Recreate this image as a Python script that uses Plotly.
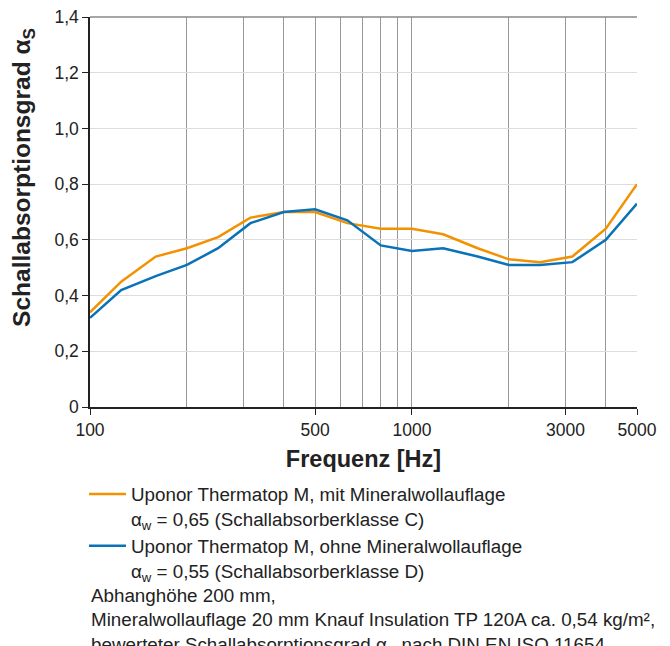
import plotly.graph_objects as go

freq = [100, 125, 160, 200, 250, 315, 400, 500, 630, 800, 1000, 1250, 1600, 2000, 2500, 3150, 4000, 5000]
mit_mineralwolle = [0.34, 0.45, 0.54, 0.57, 0.61, 0.68, 0.70, 0.70, 0.66, 0.64, 0.64, 0.62, 0.57, 0.53, 0.52, 0.54, 0.64, 0.80]
ohne_mineralwolle = [0.32, 0.42, 0.47, 0.51, 0.57, 0.66, 0.70, 0.71, 0.67, 0.58, 0.56, 0.57, 0.54, 0.51, 0.51, 0.52, 0.60, 0.73]

x_tickvals = [100, 500, 1000, 3000, 5000]
x_ticktext = ["100", "500", "1000", "3000", "5000"]
x_gridvals = [200, 300, 400, 500, 600, 700, 800, 900, 1000, 2000, 3000, 4000, 5000]
y_tickvals = [0, 0.2, 0.4, 0.6, 0.8, 1.0, 1.2, 1.4]
y_ticktext = ["0", "0,2", "0,4", "0,6", "0,8", "1,0", "1,2", "1,4"]

name_mit = "Uponor Thermatop M, mit Mineralwollauflage<br>α<sub>w</sub> = 0,65 (Schallabsorberklasse C)"
name_ohne = "Uponor Thermatop M, ohne Mineralwollauflage<br>α<sub>w</sub> = 0,55 (Schallabsorberklasse D)"
footnote = ("Abhanghöhe 200 mm,<br>Mineralwollauflage 20 mm Knauf Insulation TP 120A ca. 0,54 kg/m²,"
            "<br>bewerteter Schallabsorptionsgrad α<sub>w</sub> nach DIN EN ISO 11654")
y_title = "<b>Schallabsorptionsgrad α<sub>S</sub></b>"

orange = "#F39200"
blue = "#0A72B8"
font_family = "Liberation Sans, Arial, sans-serif"
text_color = "#222222"

fig = go.Figure()
fig.add_trace(go.Scatter(x=freq, y=mit_mineralwolle, mode="lines", name=name_mit,
                         line=dict(color=orange, width=2.5)))
fig.add_trace(go.Scatter(x=freq, y=ohne_mineralwolle, mode="lines", name=name_ohne,
                         line=dict(color=blue, width=2.5)))

# the page body adds an 8px offset, so the figure is sized 8px smaller
fig.update_layout(
    width=662, height=638,
    margin=dict(l=82, r=33, t=9, b=239, autoexpand=False),
    paper_bgcolor="white", plot_bgcolor="white",
    font=dict(family=font_family, size=17.5, color=text_color),
    showlegend=True,
    legend=dict(x=-0.011, y=-0.175, xanchor="left", yanchor="top",
                valign="top", tracegroupgap=3, itemwidth=37,
                font=dict(size=18.8, color=text_color), bgcolor="rgba(0,0,0,0)"),
    xaxis=dict(
        type="log", range=[2, 3.69897],
        tickvals=x_tickvals, ticktext=x_ticktext,
        showgrid=False, ticks="outside", ticklen=6, tickcolor=text_color,
        showline=True, linecolor=text_color, linewidth=1.5,
        tickfont=dict(size=17.5, color=text_color),
        minor=dict(tickvals=x_gridvals, showgrid=True, gridcolor="#999999", gridwidth=1, ticks=""),
        title=dict(text="<b>Frequenz [Hz]</b>", font=dict(size=23.5, color=text_color), standoff=12),
        zeroline=False,
    ),
    yaxis=dict(
        range=[0, 1.4],
        tickvals=y_tickvals, ticktext=y_ticktext,
        showgrid=True, gridcolor="#DDDDDD", gridwidth=1,
        ticks="outside", ticklen=6, tickcolor=text_color,
        showline=True, linecolor=text_color, linewidth=1.5,
        tickfont=dict(size=17.5, color=text_color),
        ticklabeloverflow="allow",
        zeroline=False,
    ),
    shapes=[dict(type="line", xref="paper", yref="paper", x0=0, x1=1, y0=1, y1=1,
                 line=dict(color="#888888", width=1.5))],
    annotations=[
        dict(text=footnote, xref="paper", yref="paper", x=-0.002, y=-0.451,
             xanchor="left", yanchor="top", align="left", showarrow=False,
             font=dict(size=18.8, color=text_color)),
        dict(text=y_title, xref="paper", yref="paper", x=-0.1207, y=0.59,
             xanchor="center", yanchor="middle", textangle=-90, showarrow=False,
             font=dict(size=24.5, color=text_color)),
    ],
)

fig.write_html("out.html")
